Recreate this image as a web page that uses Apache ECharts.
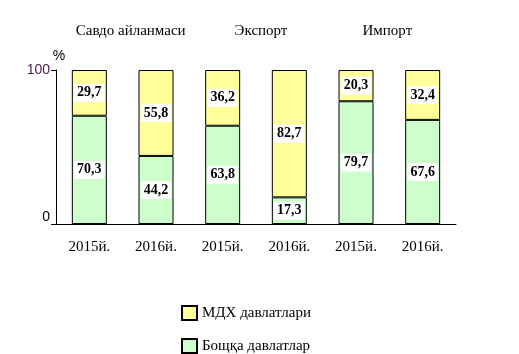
<!DOCTYPE html>
<html>
<head>
<meta charset="utf-8">
<script src="https://cdn.jsdelivr.net/npm/echarts@6/dist/echarts.min.js"></script>
<style>
	html, body { margin: 0; padding: 0; background: #fff; }
	#chart { width: 519px; height: 354px; }
</style>
</head>
<body>
<div id="chart"></div>
<script>
// Данные диаграммы
const groups = ["Савдо айланмаси", "Экспорт", "Импорт"];
const years = ["2015й.", "2016й.", "2015й.", "2016й.", "2015й.", "2016й."];
const otherCountries = [70.3, 44.2, 63.8, 17.3, 79.7, 67.6]; // Бощқа давлатлар
const cisCountries = [29.7, 55.8, 36.2, 82.7, 20.3, 32.4]; // МДХ давлатлари
const seriesNames = ["Бощқа давлатлар", "МДХ давлатлари"];
const yTicks = [0, 100];

const serif = "'Liberation Serif', 'Times New Roman', serif";
const sans = "'Liberation Sans', Arial, sans-serif";

const chart = echarts.init(document.getElementById("chart"));

const labelStyle = {
	show: true,
	position: "inside",
	fontFamily: serif,
	fontWeight: "bold",
	fontSize: 14,
	color: "#000",
	backgroundColor: "#fff",
	padding: [2, 3],
	formatter: (p) => String(p.value).replace(".", ","),
};

chart.setOption({
	animation: false,
	grid: { left: 56, right: 63, top: 70, bottom: 130 },
	legend: {
		orient: "vertical",
		left: 181,
		top: 305,
		padding: 0,
		itemWidth: 15,
		itemHeight: 14,
		itemGap: 17,
		icon: "rect",
		data: [seriesNames[1], seriesNames[0]],
		textStyle: { fontFamily: serif, fontSize: 15, color: "#000" },
	},
	xAxis: [
		{
			type: "category",
			data: years,
			axisLine: { lineStyle: { color: "#000", width: 1 } },
			axisTick: { interval: 1, length: 5, lineStyle: { color: "#000" } },
			axisLabel: {
				interval: 0,
				margin: 16,
				fontFamily: serif,
				fontSize: 15,
				color: "#000",
			},
		},
		{
			type: "category",
			position: "top",
			data: groups,
			axisLine: { show: false },
			axisTick: { show: false },
			axisLabel: {
				interval: 0,
				margin: 31,
				fontFamily: serif,
				fontSize: 15,
				color: "#000",
				formatter: (v, i) => ["{a|", "{b|", "{c|"][i] + v + "}",
				rich: {
					a: { fontFamily: serif, fontSize: 15, color: "#000", padding: [0, 0, 0, 16] },
					b: { fontFamily: serif, fontSize: 15, color: "#000", padding: [0, 0, 0, 10] },
					c: { fontFamily: serif, fontSize: 15, color: "#000", padding: [0, 4, 0, 0] },
				},
			},
		},
	],
	yAxis: {
		type: "value",
		min: yTicks[0],
		max: yTicks[1],
		interval: 100,
		name: "%",
		nameLocation: "end",
		nameGap: 0,
		nameTextStyle: { fontFamily: sans, fontSize: 14, color: "#000", padding: [0, 0, 0, 6] },
		splitLine: { show: false },
		axisLine: { show: true, lineStyle: { color: "#000", width: 1 } },
		axisTick: { show: true, length: 5, lineStyle: { color: "#000" } },
		axisLabel: {
			margin: 6,
			fontFamily: sans,
			fontSize: 14,
			formatter: (v) => (v === 0 ? "{z|0}" : "{h|" + v + "}"),
			rich: {
				z: { fontFamily: sans, fontSize: 14, color: "#000", padding: [0, 0, 14, 0] },
				h: { fontFamily: sans, fontSize: 14, color: "#4a1a4a" },
			},
		},
	},
	series: [
		{
			name: seriesNames[0],
			type: "bar",
			stack: "total",
			barWidth: 35,
			data: otherCountries,
			itemStyle: { color: "#ccffcc", borderColor: "#000", borderWidth: 1 },
			label: labelStyle,
		},
		{
			name: seriesNames[1],
			type: "bar",
			stack: "total",
			barWidth: 35,
			data: cisCountries,
			itemStyle: { color: "#ffff99", borderColor: "#000", borderWidth: 1 },
			label: labelStyle,
		},
	],
});
</script>
</body>
</html>
